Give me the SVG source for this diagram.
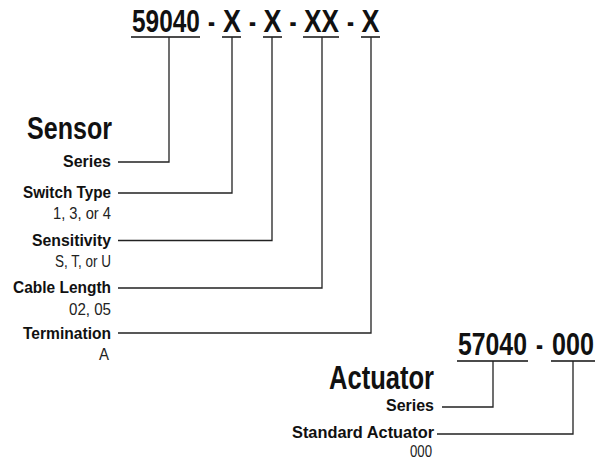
<svg xmlns="http://www.w3.org/2000/svg" width="604" height="459" viewBox="0 0 604 459">
<style>
.code{font-family:"Liberation Sans",Arial,sans-serif;font-weight:bold;font-size:31px;fill:#111}
.title{font-family:"Liberation Sans",Arial,sans-serif;font-weight:bold;fill:#111}
.lbl{font-family:"Liberation Sans",Arial,sans-serif;font-weight:bold;font-size:16.5px;fill:#111}
.val{font-family:"Liberation Sans",Arial,sans-serif;font-size:16px;fill:#222}
.ln{stroke:#222;stroke-width:1.3;fill:none}
.ul{stroke:#111;stroke-width:1.5;fill:none}
</style>
<rect width="604" height="459" fill="#fff"/>
<g id="sensor-code">
<text class="code" transform="translate(132,32) scale(0.788,1)">59040</text>
<text class="code" transform="translate(208,32) scale(0.68,1)">-</text>
<text class="code" transform="translate(223,32) scale(0.87,1)">X</text>
<text class="code" transform="translate(249,32) scale(0.68,1)">-</text>
<text class="code" transform="translate(263.5,32) scale(0.87,1)">X</text>
<text class="code" transform="translate(289.5,32) scale(0.68,1)">-</text>
<text class="code" transform="translate(304,32) scale(0.845,1)">XX</text>
<text class="code" transform="translate(347,32) scale(0.68,1)">-</text>
<text class="code" transform="translate(361.5,32) scale(0.87,1)">X</text>
<path class="ul" d="M131 37H200M222 37H241M263 37H282M303 37H339M361 37H380"/>
</g>
<g id="sensor-title">
<text class="title" x="27" y="138.5" font-size="31" textLength="85" lengthAdjust="spacingAndGlyphs">Sensor</text>
</g>
<g id="series">
<text class="lbl" x="63" y="166.5" textLength="48" lengthAdjust="spacingAndGlyphs">Series</text>
</g>
<g id="switch-type">
<text class="lbl" x="23" y="197.5" textLength="88" lengthAdjust="spacingAndGlyphs">Switch Type</text>
<text class="val" x="53" y="219" textLength="58" lengthAdjust="spacingAndGlyphs">1, 3, or 4</text>
</g>
<g id="sensitivity">
<text class="lbl" x="32" y="246" textLength="79" lengthAdjust="spacingAndGlyphs">Sensitivity</text>
<text class="val" x="55" y="267" textLength="56" lengthAdjust="spacingAndGlyphs">S, T, or U</text>
</g>
<g id="cable-length">
<text class="lbl" x="13" y="293" textLength="98" lengthAdjust="spacingAndGlyphs">Cable Length</text>
<text class="val" x="69" y="315" textLength="42" lengthAdjust="spacingAndGlyphs">02, 05</text>
</g>
<g id="termination">
<text class="lbl" x="23" y="338.5" textLength="88" lengthAdjust="spacingAndGlyphs">Termination</text>
<text class="val" x="99" y="359.5" textLength="10" lengthAdjust="spacingAndGlyphs">A</text>
</g>
<g id="actuator-code">
<text class="code" transform="translate(458,355) scale(0.8,1)">57040</text>
<text class="code" transform="translate(536,355) scale(0.68,1)">-</text>
<text class="code" transform="translate(552,355) scale(0.81,1)">000</text>
<path class="ul" d="M457 361H528M551 361H595"/>
</g>
<g id="actuator-title">
<text class="title" x="329" y="389" font-size="33" textLength="105" lengthAdjust="spacingAndGlyphs">Actuator</text>
</g>
<g id="actuator-series">
<text class="lbl" x="386" y="411" textLength="48" lengthAdjust="spacingAndGlyphs">Series</text>
</g>
<g id="standard-actuator">
<text class="lbl" x="292" y="438" textLength="142" lengthAdjust="spacingAndGlyphs">Standard Actuator</text>
<text class="val" x="410" y="457" textLength="22" lengthAdjust="spacingAndGlyphs">000</text>
</g>
<g id="connectors">
<path class="ln" d="M169 37V162H118"/>
<path class="ln" d="M232 37V193H118"/>
<path class="ln" d="M272 37V240.5H118"/>
<path class="ln" d="M322 37V288H118"/>
<path class="ln" d="M371 37V333H118"/>
<path class="ln" d="M493 361V407H442"/>
<path class="ln" d="M573 361V434H437"/>
</g>
</svg>
